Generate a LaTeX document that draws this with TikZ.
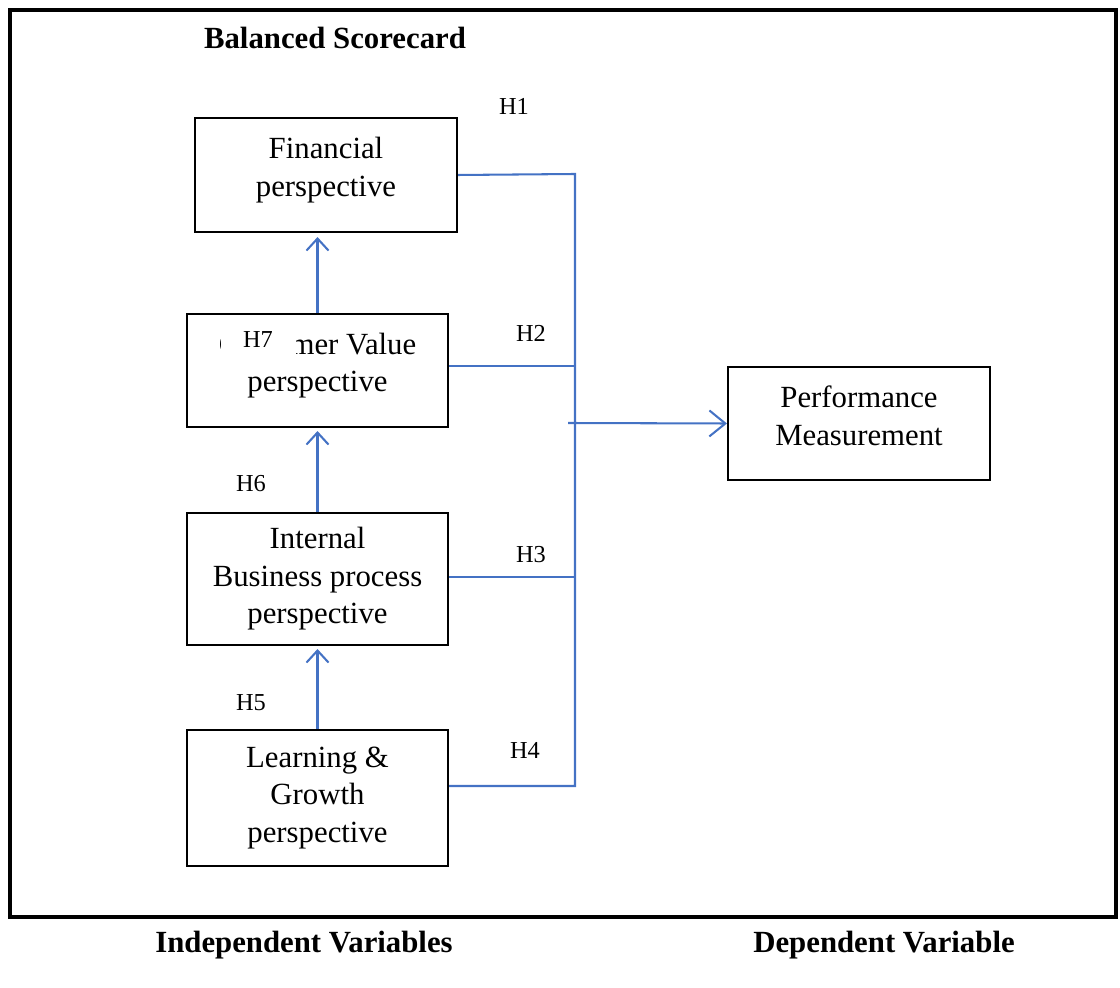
\documentclass[tikz,border=0pt]{standalone}
\usepackage{fontspec}
\setmainfont{Liberation Serif}
\usetikzlibrary{arrows.meta,positioning}

\newcommand{\pu}{0.0137cm}
\definecolor{lineblue}{RGB}{68,114,196}
\tikzset{
  box/.style={draw, thick, align=center, font=\fontsize{12}{14.6}\selectfont, inner sep=0pt},
  twoline/.style={box, text depth=16*\pu},
  hyp/.style={font=\fontsize{9.5}{11}\selectfont, inner sep=1pt},
  link/.style={draw=lineblue, line width=0.8pt},
  uparrow/.style={link, -{Straight Barb[length=12*\pu, width=22*\pu]}, shorten >=3*\pu},
  head/.style={font=\bfseries\fontsize{12}{14}\selectfont}
}

\begin{document}
\begin{tikzpicture}[x=\pu, y=-\pu]
  \useasboundingbox (0,0) rectangle (1120,988);
  \draw[line width=1.6pt] (10,10) rectangle (1116,917);

  \node[head] (bsc) at (335,38) {Balanced Scorecard};
  \node[twoline, minimum width=262*\pu, minimum height=114*\pu] (fin) at (326,175) {Financial\\perspective};
  \node[twoline, minimum width=261*\pu, minimum height=113*\pu] (cust) at (317.5,370.5) {Customer Value\\perspective};
  \node[box, minimum width=261*\pu, minimum height=132*\pu] (int) at (317.5,579) {Internal\\Business process\\perspective};
  \node[box, minimum width=261*\pu, minimum height=136*\pu] (learn) at (317.5,798) {Learning \&\\Growth\\perspective};
  \node[twoline, minimum width=262*\pu, minimum height=113*\pu] (perf) at (859,423.5) {Performance\\Measurement};

  \coordinate (top) at (575,174);
  \coordinate (bot) at (575,786);
  \coordinate (mid) at (568,423);
  \draw[link] (fin.east) -- (top) -- (bot) -- (learn.east |- bot);
  \draw[link] (cust.east |- 0,366) -- (575,366);
  \draw[link] (int.east |- 0,577) -- (575,577);
  \draw[link, -{Straight Barb[length=16*\pu, width=26*\pu]}] (mid) -- (perf.west);

  \draw[uparrow] (learn.north) -- (int.south);
  \draw[uparrow] (int.north) -- (cust.south);
  \draw[uparrow, shorten >=4*\pu] (cust.north) -- (cust.north |- fin.south);

  \node[hyp] (h1) at (514,106) {H1};
  \node[hyp] (h2) at (531,333) {H2};
  \node[hyp] (h3) at (531,555) {H3};
  \node[hyp] (h4) at (525,750) {H4};
  \node[hyp] (h5) at (251,703) {H5};
  \node[hyp] (h6) at (251,484) {H6};
  % white label patch over the box text
  \fill[white] (221,324) rectangle (296,358);
  \node[hyp] (h7) at (258,340) {H7};

  \node[head] (indep) at (304,945) {Independent Variables};
  \node[head] (dep) at (884,945) {Dependent Variable};
\end{tikzpicture}
\end{document}
